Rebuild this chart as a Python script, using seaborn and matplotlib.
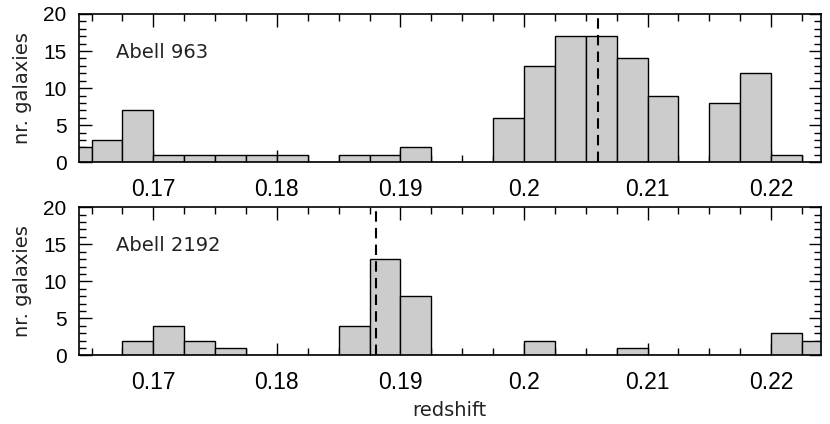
import numpy as np
import pandas as pd
import seaborn as sns
import matplotlib.pyplot as plt
from matplotlib.ticker import MultipleLocator

# redshift histograms, bins of 0.0025 starting at 0.1625
bin_edges = [round(v, 4) for v in np.linspace(0.1625, 0.2250, 26)]
counts_963 = [2, 3, 7, 1, 1, 1, 1, 1, 0, 1, 1, 2, 0, 0, 6, 13, 17, 17, 14, 9, 0, 8, 12, 1, 0]
counts_2192 = [0, 0, 2, 4, 2, 1, 0, 0, 0, 4, 13, 8, 0, 0, 0, 2, 0, 0, 1, 0, 0, 0, 0, 3, 2]
clusters = ["Abell 963", "Abell 2192"]
mean_z = [0.2060, 0.1880]
xticks = [0.17, 0.18, 0.19, 0.20, 0.21, 0.22]
xtick_labels = ["0.17", "0.18", "0.19", "0.2", "0.21", "0.22"]
yticks = [0, 5, 10, 15, 20]

centers = [(a + b) / 2 for a, b in zip(bin_edges[:-1], bin_edges[1:])]
df = pd.DataFrame({
    "z": centers + centers,
    "n": counts_963 + counts_2192,
    "cluster": [clusters[0]] * len(centers) + [clusters[1]] * len(centers),
})

sns.set_style("ticks")
plt.rcParams['font.family'] = ['Liberation Sans', 'DejaVu Sans']

fig = plt.figure(figsize=(8.3, 4.24), dpi=100)
ax_top = fig.add_axes([0.0952, 0.6172, 0.8936, 0.3498])
ax_bot = fig.add_axes([0.0952, 0.1620, 0.8936, 0.3491])

for ax, name, zm in zip([ax_top, ax_bot], clusters, mean_z):
    sub = df[df["cluster"] == name]
    sns.histplot(data=sub, x="z", weights="n", bins=bin_edges, ax=ax,
                 color="#cccccc", edgecolor="black", linewidth=1, alpha=1)
    ax.axvline(zm, color="black", lw=1.5, linestyle=(0, (5, 3)))
    ax.set_xlim(0.16398, 0.22402)
    ax.set_ylim(0, 20)
    ax.set_xticks(xticks)
    ax.set_xticklabels(xtick_labels, fontsize=16.5)
    ax.set_yticks(yticks)
    ax.set_yticklabels([str(v) for v in yticks], fontsize=15)
    ax.xaxis.set_minor_locator(MultipleLocator(0.0025))
    ax.yaxis.set_minor_locator(MultipleLocator(1))
    ax.tick_params(which='both', direction='in', top=True, right=True, width=1,
                   color='black', labelcolor='black')
    ax.tick_params(which='major', length=9)
    ax.tick_params(which='minor', length=5)
    ax.tick_params(axis='x', which='major', pad=11)
    ax.tick_params(axis='y', which='major', pad=9)
    for sp in ax.spines.values():
        sp.set_linewidth(1.2)
        sp.set_color('black')
    ax.set_ylabel("nr. galaxies", fontsize=14, family='DejaVu Sans', color='#222222')
    ax.yaxis.set_label_coords(-0.063, 0.5)
    ax.set_xlabel("")
    ax.text(0.167, 14.8, name, fontsize=14, family='DejaVu Sans', va='center', ha='left', color='#222222')

ax_bot.set_xlabel("redshift", fontsize=14, family='DejaVu Sans', color='#222222', labelpad=5)

fig.savefig("out.png", dpi=100)
